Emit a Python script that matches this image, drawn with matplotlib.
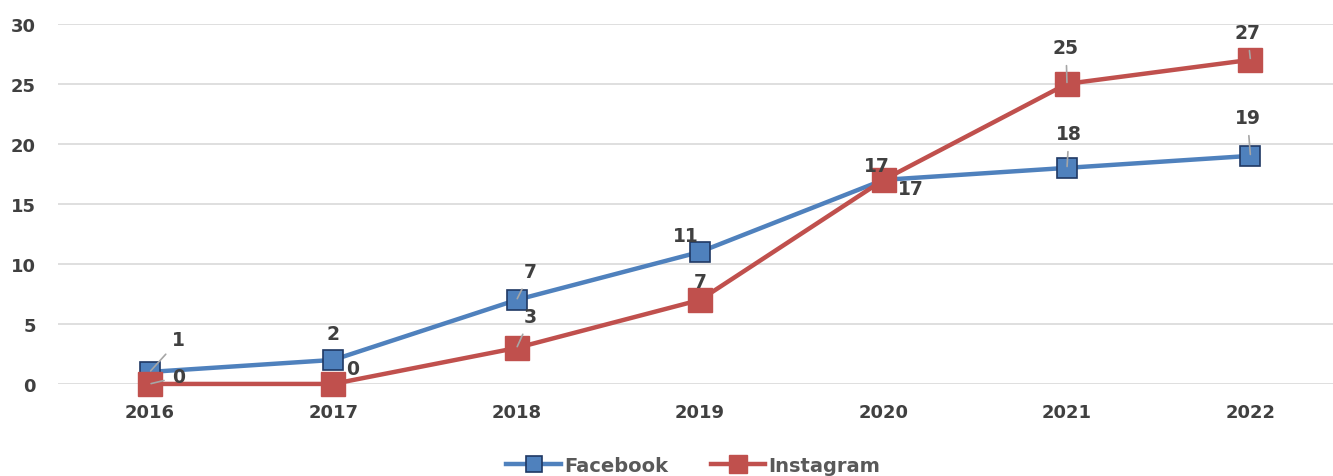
import matplotlib
matplotlib.use('Agg')
import matplotlib.pyplot as plt

plt.rcParams['font.family'] = ['DejaVu Sans']

years = ['2016', '2017', '2018', '2019', '2020', '2021', '2022']
facebook = [1, 2, 7, 11, 17, 18, 19]
instagram = [0, 0, 3, 7, 17, 25, 27]

# label offsets in pixels (dx, dy) and whether a leader line is drawn
fb_off = [(29, 32), (0, 26), (14, 28), (-14, 16), (-7, 14), (2, 34), (-3, 38)]
fb_lead = [True, False, True, False, False, True, True]
ig_off = [(29, 7), (19, 15), (14, 31), (0, 18), (27, -9), (-1, 36), (-3, 27)]
ig_lead = [True, False, True, False, False, True, True]

txt = '#404040'
fb_col = '#4F81BD'
ig_col = '#C0504D'

fig = plt.figure(figsize=(13.33, 4.77), dpi=100)
ax = fig.add_axes([0.0435, 0.193, 0.9565, 0.755])

x = range(len(years))
ax.plot(x, facebook, color=fb_col, lw=3.2, marker='s', markersize=15,
        markerfacecolor=fb_col, markeredgecolor='#1F3864', markeredgewidth=1.2,
        label='Facebook', clip_on=False, zorder=3)
ax.plot(x, instagram, color=ig_col, lw=3.2, marker='s', markersize=17,
        markerfacecolor=ig_col, markeredgecolor=ig_col,
        label='Instagram', clip_on=False, zorder=4)

for vals, offs, leads in [(facebook, fb_off, fb_lead), (instagram, ig_off, ig_lead)]:
    for i, v in enumerate(vals):
        ap = dict(arrowstyle='-', color='#a6a6a6', lw=1.2, shrinkA=4, shrinkB=1) if leads[i] else None
        ax.annotate(str(v), (i, v), xytext=offs[i], textcoords='offset pixels',
                    ha='center', va='center', fontsize=13.5, fontweight='bold',
                    color=txt, arrowprops=ap, zorder=5)

ax.set_xlim(-0.5, 6.45)
ax.set_ylim(0, 30)
ax.set_yticks(range(0, 31, 5))
ax.set_xticks(list(x))
ax.set_xticklabels(years)
ax.grid(axis='y', color='#d9d9d9', lw=1.2)
ax.set_axisbelow(True)
for s in ax.spines.values():
    s.set_visible(False)
ax.tick_params(length=0, labelsize=13, labelcolor=txt)
ax.tick_params(axis='y', pad=16)
ax.tick_params(axis='x', pad=14)
for lbl in ax.get_xticklabels() + ax.get_yticklabels():
    lbl.set_fontweight('bold')

leg = fig.legend(loc='lower center', bbox_to_anchor=(0.52, -0.035), ncol=2, frameon=False,
                 fontsize=14, handlelength=2.8, columnspacing=2.2, handletextpad=0.15,
                 markerscale=0.75)
for t in leg.get_texts():
    t.set_color('#595959')
    t.set_fontweight('bold')

fig.savefig('out.png', dpi=100)
